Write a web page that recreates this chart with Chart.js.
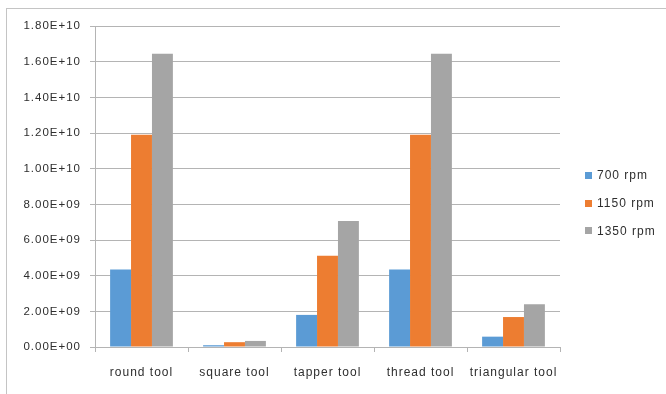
<!DOCTYPE html>
<html>
<head>
<meta charset="utf-8">
<script src="https://cdn.jsdelivr.net/npm/chart.js@4"></script>
<style>
  html, body { margin: 0; padding: 0; background: #fff; }
  #wrap { position: relative; width: 666px; height: 394px; overflow: hidden; }
  #frame { position: absolute; left: 6px; top: 8px; width: 700px; height: 420px;
           border-left: 1px solid #c4c4c4; border-top: 1px solid #c4c4c4; }
  canvas { position: absolute; left: 0; top: 0; }
</style>
</head>
<body>
<div id="wrap">
  <div id="frame"></div>
  <canvas id="c" width="666" height="394"></canvas>
</div>
<script>
// Tool types on the category axis
const categories = ['round tool', 'square tool', 'tapper tool', 'thread tool', 'triangular tool'];
// Spindle speeds (series names)
const seriesNames = ['700 rpm', '1150 rpm', '1350 rpm'];
// Values per tool for each speed
const rpm700  = [4.34e9, 1.0e8, 1.80e9, 4.34e9, 5.8e8];
const rpm1150 = [1.19e10, 2.7e8, 5.12e9, 1.19e10, 1.68e9];
const rpm1350 = [1.645e10, 3.4e8, 7.07e9, 1.645e10, 2.40e9];
// Value axis range
const yMin = 0;
const yMax = 1.8e10;
const yStep = 2e9;

const colors = ['#5B9BD5', '#ED7D31', '#A5A5A5'];
const textColor = '#2e2e2e';
const gridColor = '#b4b4b4';
const family = '"Liberation Sans", Arial, sans-serif';

// Scientific notation like 1.80E+10 / 8.00E+09
function sci(v) {
  if (v === 0) return '0.00E+00';
  let e = Math.floor(Math.log10(Math.abs(v)));
  let m = v / Math.pow(10, e);
  if (Number(m.toFixed(2)) >= 10) { m /= 10; e += 1; }
  const sign = e < 0 ? '-' : '+';
  const ae = Math.abs(e);
  return m.toFixed(2) + 'E' + sign + (ae < 10 ? '0' + ae : String(ae));
}

// Slightly wider letter spacing for all canvas text
const spacingPlugin = {
  id: 'spacing',
  beforeLayout(chart) { chart.ctx.letterSpacing = '1px'; },
  beforeDraw(chart) { chart.ctx.letterSpacing = '1px'; }
};

// Legend on the right: small square swatch followed by the series name
const sideLegend = {
  id: 'sideLegend',
  afterDraw(chart) {
    const ctx = chart.ctx;
    ctx.save();
    ctx.letterSpacing = '1px';
    ctx.font = '12px ' + family;
    ctx.textBaseline = 'middle';
    ctx.textAlign = 'left';
    chart.data.datasets.forEach((ds, i) => {
      const cy = 175.5 + i * 27.7;
      ctx.fillStyle = ds.backgroundColor;
      ctx.fillRect(585, Math.round(cy - 3.5), 7, 7);
      ctx.fillStyle = textColor;
      ctx.fillText(ds.label, 597, cy + 0.5);
    });
    ctx.restore();
  }
};

const datasets = [rpm700, rpm1150, rpm1350].map((vals, i) => ({
  label: seriesNames[i],
  data: vals,
  backgroundColor: colors[i],
  borderWidth: 0,
  categoryPercentage: 0.675,
  barPercentage: 1.0
}));

new Chart(document.getElementById('c'), {
  type: 'bar',
  data: { labels: categories, datasets },
  plugins: [spacingPlugin, sideLegend],
  options: {
    responsive: false,
    animation: false,
    devicePixelRatio: 1,
    layout: { padding: { top: 26, right: 106, bottom: 0, left: 0 } },
    plugins: { legend: { display: false }, tooltip: { enabled: false } },
    scales: {
      x: {
        offset: true,
        grid: { drawOnChartArea: false, drawTicks: true, tickLength: 5, color: gridColor, offset: true },
        border: { display: true, color: gridColor, width: 1 },
        ticks: { color: textColor, font: { family, size: 12 }, padding: 13, maxRotation: 0, autoSkip: false },
        afterFit(s) { s.height = 47; }
      },
      y: {
        min: yMin,
        max: yMax,
        grid: { color: gridColor, lineWidth: 1, drawTicks: true, tickLength: 5 },
        border: { display: true, color: gridColor, width: 1 },
        ticks: { stepSize: yStep, color: textColor, font: { family, size: 11.5 }, padding: 9, callback: (v) => sci(v) },
        afterFit(s) { s.width = 95; }
      }
    }
  }
});
</script>
</body>
</html>
